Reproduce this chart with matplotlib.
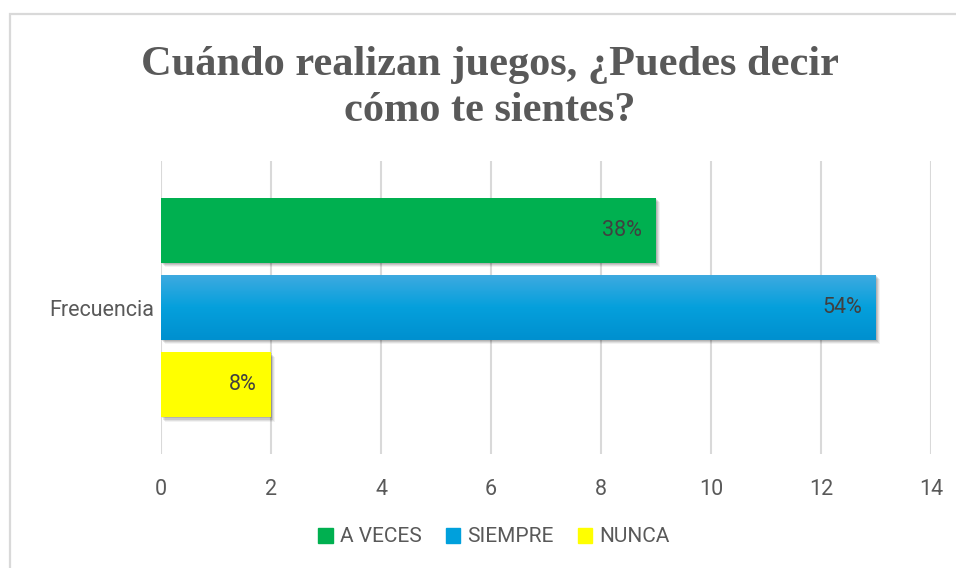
import numpy as np
import matplotlib
matplotlib.use("Agg")
import matplotlib.pyplot as plt
import matplotlib.patheffects as pe
from matplotlib.patches import Rectangle
from matplotlib.colors import LinearSegmentedColormap

categories = ["Frecuencia"]
series = ["A VECES", "SIEMPRE", "NUNCA"]
values = [9, 13, 2]
pct_labels = ["38%", "54%", "8%"]
colors = ["#00B050", "#00A0DC", "#FFFF00"]
xticks = [0, 2, 4, 6, 8, 10, 12, 14]

title = "Cuándo realizan juegos, ¿Puedes decir\ncómo te sientes?"
GRAY = "#595959"
plt.rcParams["font.family"] = ["Roboto", "DejaVu Sans"]

fig = plt.figure(figsize=(9.56, 5.68), dpi=100)

# chart frame (light gray border, top and left visible)
fig.add_artist(Rectangle((10 / 956, -0.05), 1.1, 1 - 14 / 568 + 0.05,
                         transform=fig.transFigure, fill=False,
                         edgecolor="#D9D9D9", linewidth=1.6))

ax = fig.add_axes([161 / 956, 1 - 454 / 568, 770 / 956, 293 / 568])
ax.set_xlim(0, 14)
ax.set_ylim(-0.5, 0.5)

offsets = [0.263, 0.0, -0.264]
height = 0.222
shadow = [pe.SimplePatchShadow(offset=(o, -o), shadow_rgbFace="k", alpha=a)
          for o, a in [(3.2, 0.05), (2.4, 0.08), (1.6, 0.1), (0.8, 0.1)]]

for i, (name, v) in enumerate(zip(series, values)):
    y = offsets[i]
    bar = ax.barh(y, v, height=height, color=colors[i], zorder=3, label=name)[0]
    bar.set_path_effects(shadow + [pe.Normal()])
    if name == "SIEMPRE":
        cmap = LinearSegmentedColormap.from_list(
            "blu", ["#3FAAE0", "#05A0DC", "#0090CF"])
        grad = np.linspace(0, 1, 64).reshape(-1, 1)
        im = ax.imshow(grad, cmap=cmap, aspect="auto", zorder=3.5,
                       extent=(0, v, y - height / 2, y + height / 2),
                       origin="upper")
        im.set_clip_path(bar)
    ax.annotate(pct_labels[i], (v, y), xytext=(-10, 0),
                textcoords="offset points", ha="right", va="center",
                fontsize=15.5, color="#404040", zorder=4)

ax.set_xticks(xticks)
ax.set_yticks([0])
ax.set_yticklabels(categories)
ax.tick_params(axis="both", length=0, labelsize=15.5, labelcolor=GRAY)
ax.tick_params(axis="x", pad=18)
ax.tick_params(axis="y", pad=5)
ax.grid(axis="x", color="#D9D9D9", linewidth=1.5, zorder=0)
ax.set_axisbelow(True)
for s in ax.spines.values():
    s.set_visible(False)

fig.text(490 / 956, 1 - 88 / 568, title, ha="center", va="center",
         fontsize=30.5, fontweight="bold", color=GRAY,
         family=["Liberation Serif", "DejaVu Serif"], linespacing=1.25)

handles = [Rectangle((0, 0), 1, 1, color=c) for c in colors]
fig.legend(handles, series, loc="center", bbox_to_anchor=(494 / 956, 1 - 537 / 568),
           ncol=3, frameon=False, fontsize=15, labelcolor=GRAY,
           handlelength=0.7, handleheight=0.7, handletextpad=0.35,
           columnspacing=1.15)

fig.savefig("out.png", dpi=100)
